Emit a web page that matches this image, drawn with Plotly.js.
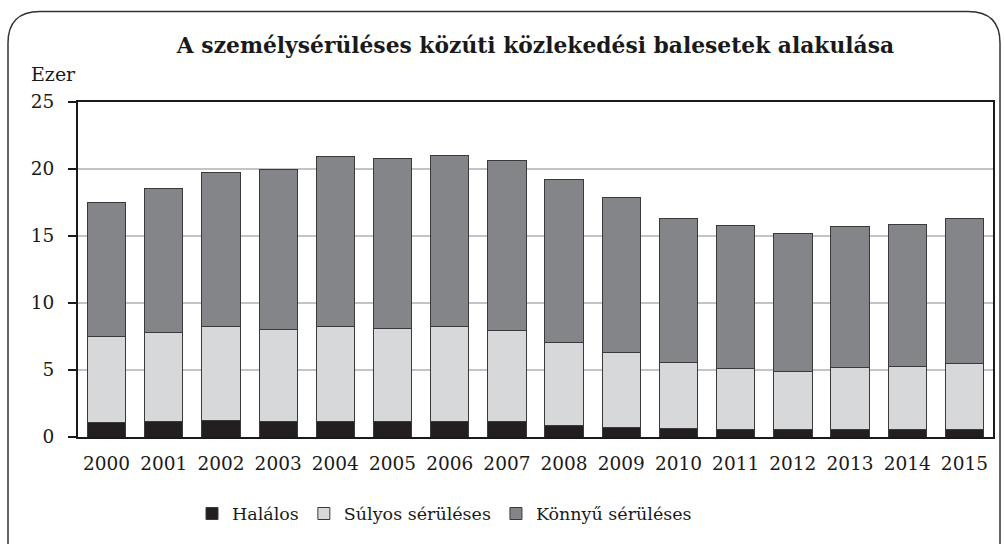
<!DOCTYPE html>
<html>
<head>
<meta charset="utf-8">
<script src="https://cdn.plot.ly/plotly-3.0.1.min.js"></script>
<style>html,body{margin:0;padding:0;background:#fff;}#chart{width:1005px;height:544px;}</style>
</head>
<body>
<div id="chart"></div>
<script>
const years = ['2000','2001','2002','2003','2004','2005','2006','2007','2008','2009','2010','2011','2012','2013','2014','2015'];
const halalos = [1.07,1.14,1.24,1.17,1.17,1.14,1.17,1.12,0.88,0.73,0.66,0.59,0.56,0.53,0.59,0.59];
const sulyos = [6.40,6.67,7.01,6.89,7.08,6.99,7.08,6.86,6.17,5.59,4.88,4.49,4.35,4.67,4.68,4.88];
const konnyu = [10.04,10.72,11.46,11.94,12.72,12.67,12.77,12.68,12.14,11.55,10.79,10.74,10.28,10.50,10.60,10.86];
const seriesNames = ['Halálos','Súlyos sérüléses','Könnyű sérüléses'];
const yTicks = [0,5,10,15,20,25];

const FONT = 'DejaVu Serif';
const outline = {color:'#3a3a3a', width:1};
const traces = [
  {type:'bar', name:seriesNames[0], x:years, y:halalos, marker:{color:'#231f20', line:outline}},
  {type:'bar', name:seriesNames[1], x:years, y:sulyos, marker:{color:'#d7d8da', line:outline}},
  {type:'bar', name:seriesNames[2], x:years, y:konnyu, marker:{color:'#848589', line:outline}}
];

const L=78, R=993, T=102, B=443;
const W=R-L, H=B-T;
const px = v => (v-L)/W;
const py = v => (B-v)/H;
const x0=px(8), x1=px(1000), yt=py(10), yb=py(560);
const rx=32/W, ry=32/H;
const framePath = `M ${x0},${yb} L ${x0},${yt-ry} Q ${x0},${yt} ${x0+rx},${yt} L ${x1-rx},${yt} Q ${x1},${yt} ${x1},${yt-ry} L ${x1},${yb}`;

const layout = {
  width:1005, height:544,
  margin:{l:L, r:1005-R, t:T, b:544-B, pad:0},
  barmode:'stack',
  bargap:0.33,
  paper_bgcolor:'#fff', plot_bgcolor:'#fff',
  font:{family:FONT, color:'#1a1a1a', size:18},
  showlegend:true,
  title:{text:'<b>A személysérüléses közúti közlekedési balesetek alakulása</b>', font:{family:FONT, size:21.8, color:'#1a1a1a'}, x:0.5, xref:'paper', xanchor:'center', y:0.917, yref:'container', yanchor:'middle'},
  xaxis:{type:'category', showline:true, linecolor:'#1a1a1a', linewidth:2, mirror:true, ticks:'', showgrid:false, tickfont:{size:18.5, family:FONT}, ticklabelstandoff:9},
  yaxis:{range:[0,25], tickvals:yTicks, ticktext:yTicks.map(String), showline:true, linecolor:'#1a1a1a', linewidth:2, mirror:true, ticks:'outside', ticklen:8, tickcolor:'#1a1a1a', tickwidth:1.5, showgrid:true, gridcolor:'#c3c3c8', gridwidth:2, zeroline:false, tickfont:{size:18.5, family:FONT}, ticklabelstandoff:10},
  legend:{orientation:'h', x:px(192), xanchor:'left', y:py(521), yanchor:'middle', traceorder:'normal', font:{size:17.5, family:FONT}, itemwidth:30},
  annotations:[{text:'Ezer', xref:'paper', yref:'paper', x:px(29), y:py(74), xanchor:'left', yanchor:'middle', showarrow:false, font:{size:19, family:FONT, color:'#1a1a1a'}}],
  shapes:[{type:'path', xref:'paper', yref:'paper', path:framePath, line:{color:'#333', width:1.5}, layer:'above'}]
};

Plotly.newPlot('chart', traces, layout, {displayModeBar:false, staticPlot:true});
</script>
</body>
</html>
